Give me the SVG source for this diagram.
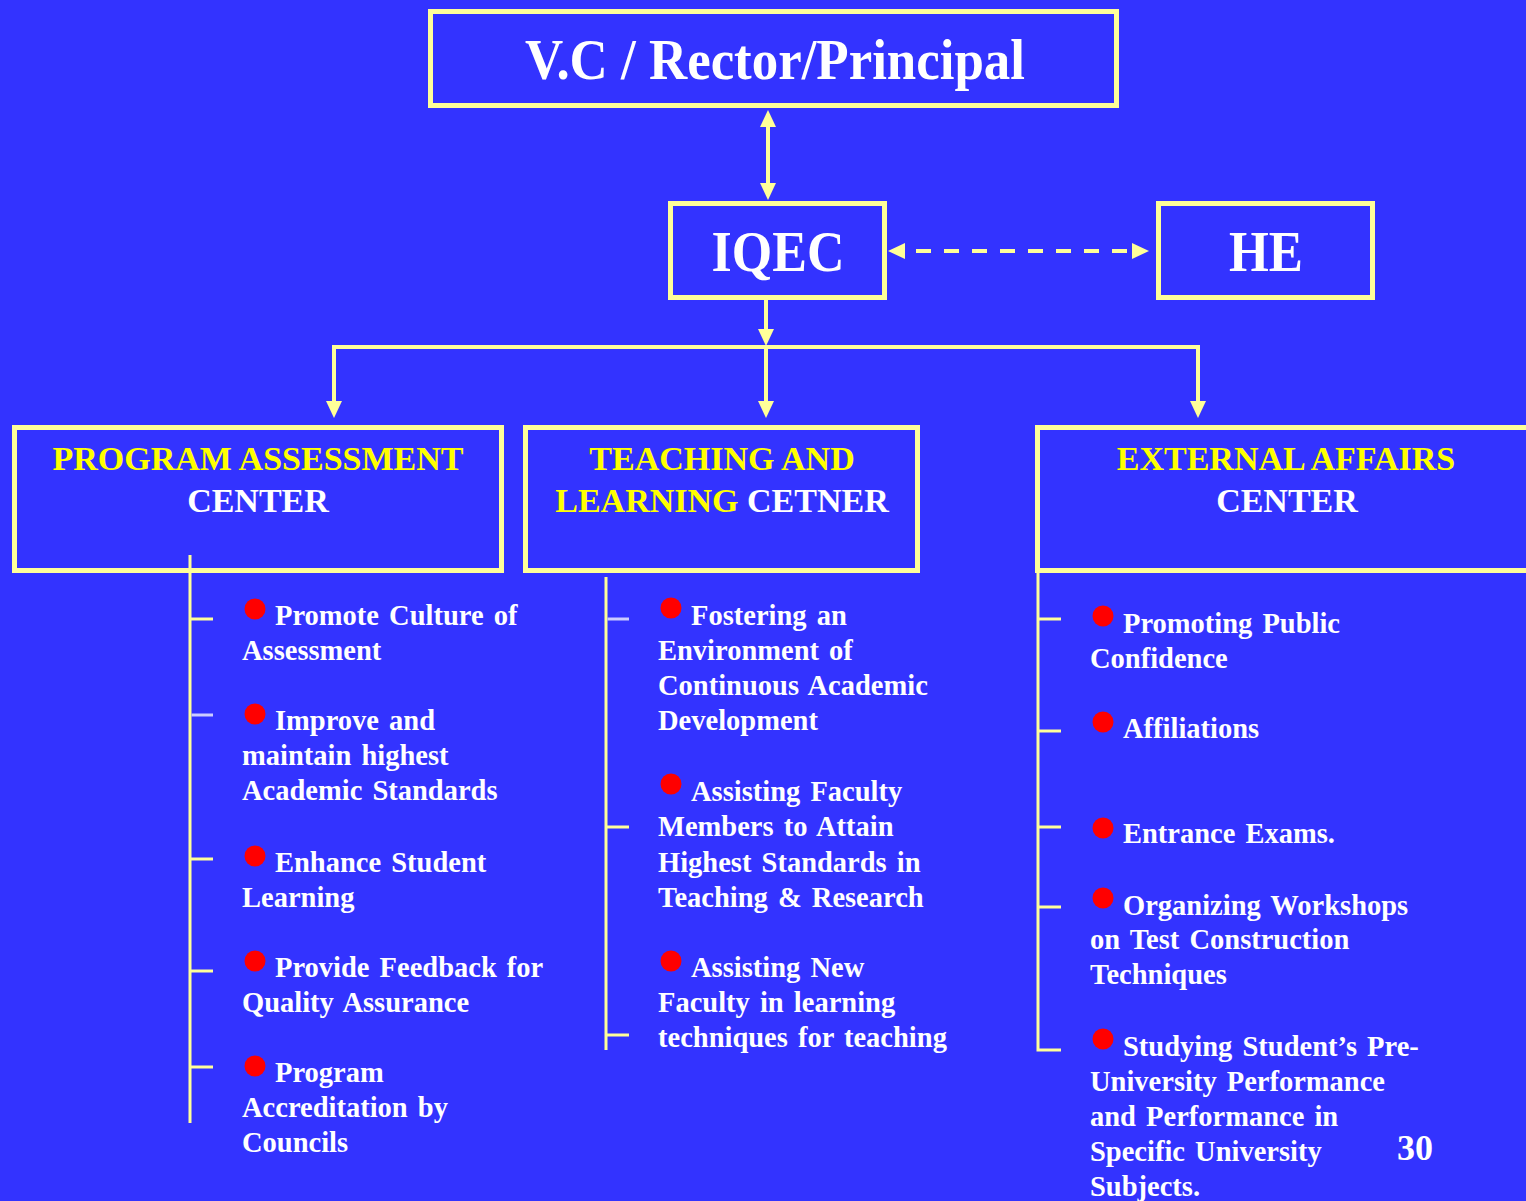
<svg xmlns="http://www.w3.org/2000/svg" width="1526" height="1201" viewBox="0 0 1526 1201">
<style>
text{font-family:"Liberation Serif","Times New Roman",serif;font-weight:bold}
.box{fill:#3333FF;stroke:#FFFF99;stroke-width:5}
.big{font-size:56px;fill:#FFFFFF;text-anchor:middle}
.hdr{font-size:34px;text-anchor:middle}
.y{fill:#FFFF00}
.w{fill:#FFFFFF}
.item{font-size:28.5px;fill:#FFFFFF;word-spacing:3px}
.con{fill:none;stroke:#FFFF99;stroke-width:4}
.dash{stroke-dasharray:15 13;stroke-dashoffset:4}
.br{fill:none;stroke:#FFFF99;stroke-width:3}
.pale{stroke:#CCCCFF}
.dot{fill:#FF0000}
</style>
<defs>
<marker id="ah" markerUnits="userSpaceOnUse" markerWidth="17" markerHeight="16" refX="13" refY="8" orient="auto-start-reverse" viewBox="0 0 17 16">
<path d="M0,0 L17,8 L0,16 z" fill="#FFFF99"/>
</marker>
</defs>
<rect x="0" y="0" width="1526" height="1201" fill="#3333FF"/>

<g id="node-vc">
<rect class="box" x="430.5" y="11.5" width="686" height="94"/>
<text class="big" x="775" y="79" textLength="500" lengthAdjust="spacingAndGlyphs">V.C / Rector/Principal</text>
</g>

<g id="node-iqec">
<rect class="box" x="670.5" y="203.5" width="214" height="94"/>
<text class="big" x="778" y="271" textLength="133" lengthAdjust="spacingAndGlyphs">IQEC</text>
</g>

<g id="node-he">
<rect class="box" x="1158.5" y="203.5" width="214" height="94"/>
<text class="big" x="1266" y="271" textLength="74" lengthAdjust="spacingAndGlyphs">HE</text>
</g>

<g id="node-pac">
<rect class="box" x="14.5" y="427.5" width="487" height="143"/>
<text class="hdr y" x="258" y="470">PROGRAM ASSESSMENT</text>
<text class="hdr w" x="258" y="512">CENTER</text>
</g>

<g id="node-tlc">
<rect class="box" x="525.5" y="427.5" width="392" height="143"/>
<text class="hdr y" x="722" y="470">TEACHING AND</text>
<text class="hdr" x="722" y="512"><tspan class="y">LEARNING</tspan><tspan class="w"> CETNER</tspan></text>
</g>

<g id="node-eac">
<rect class="box" x="1037.5" y="427.5" width="500" height="143"/>
<text class="hdr y" x="1286" y="470">EXTERNAL AFFAIRS</text>
<text class="hdr w" x="1287" y="512">CENTER</text>
</g>

<g id="connectors">
<line class="con" x1="768" y1="114" x2="768" y2="196" marker-start="url(#ah)" marker-end="url(#ah)"/>
<line class="con dash" x1="892" y1="251" x2="1145" y2="251" marker-start="url(#ah)" marker-end="url(#ah)"/>
<line class="con" x1="766" y1="300" x2="766" y2="342" marker-end="url(#ah)"/>
<path class="con" d="M334,414 L334,347 L1198,347 L1198,414" marker-start="url(#ah)" marker-end="url(#ah)"/>
<line class="con" x1="766" y1="347" x2="766" y2="414" marker-end="url(#ah)"/>
<path class="br" d="M190,555 V1123 M190,619 H213 M190,859 H213 M190,971 H213 M190,1067 H213"/>
<path class="br pale" d="M191.5,715 H213"/>
<path class="br" d="M606,577 V1050 M606,827 H629 M606,1035 H629"/>
<path class="br pale" d="M607.5,619 H629"/>
<path class="br" d="M1038,572 V1050 H1061 M1038,619 H1061 M1038,731 H1061 M1038,827 H1061 M1038,907 H1061"/>
</g>

<g id="list-pac">
<circle class="dot" cx="255" cy="609" r="10.5"/>
<circle class="dot" cx="255" cy="714" r="10.5"/>
<circle class="dot" cx="255" cy="856" r="10.5"/>
<circle class="dot" cx="255" cy="961" r="10.5"/>
<circle class="dot" cx="255" cy="1066" r="10.5"/>
<text class="item"><tspan x="275" y="625">Promote Culture of</tspan><tspan x="242" y="660">Assessment</tspan></text>
<text class="item"><tspan x="275" y="730">Improve and</tspan><tspan x="242" y="765">maintain highest</tspan><tspan x="242" y="800">Academic Standards</tspan></text>
<text class="item"><tspan x="275" y="872">Enhance Student</tspan><tspan x="242" y="907">Learning</tspan></text>
<text class="item"><tspan x="275" y="977">Provide Feedback for</tspan><tspan x="242" y="1012">Quality Assurance</tspan></text>
<text class="item"><tspan x="275" y="1082">Program</tspan><tspan x="242" y="1117">Accreditation by</tspan><tspan x="242" y="1152">Councils</tspan></text>
</g>

<g id="list-tlc">
<circle class="dot" cx="671" cy="608" r="10.5"/>
<circle class="dot" cx="671" cy="784" r="10.5"/>
<circle class="dot" cx="671" cy="961" r="10.5"/>
<text class="item"><tspan x="691" y="625">Fostering an</tspan><tspan x="658" y="660">Environment of</tspan><tspan x="658" y="695">Continuous Academic</tspan><tspan x="658" y="730">Development</tspan></text>
<text class="item"><tspan x="691" y="801">Assisting Faculty</tspan><tspan x="658" y="836">Members to Attain</tspan><tspan x="658" y="872">Highest Standards in</tspan><tspan x="658" y="907">Teaching &amp; Research</tspan></text>
<text class="item"><tspan x="691" y="977">Assisting New</tspan><tspan x="658" y="1012">Faculty in learning</tspan><tspan x="658" y="1047">techniques for teaching</tspan></text>
</g>

<g id="list-eac">
<circle class="dot" cx="1103" cy="616" r="10.5"/>
<circle class="dot" cx="1103" cy="722" r="10.5"/>
<circle class="dot" cx="1103" cy="828" r="10.5"/>
<circle class="dot" cx="1103" cy="898" r="10.5"/>
<circle class="dot" cx="1103" cy="1039" r="10.5"/>
<text class="item"><tspan x="1123" y="633">Promoting Public</tspan><tspan x="1090" y="668">Confidence</tspan></text>
<text class="item"><tspan x="1123" y="738">Affiliations</tspan></text>
<text class="item"><tspan x="1123" y="843">Entrance Exams.</tspan></text>
<text class="item"><tspan x="1123" y="915">Organizing Workshops</tspan><tspan x="1090" y="949">on Test Construction</tspan><tspan x="1090" y="984">Techniques</tspan></text>
<text class="item"><tspan x="1123" y="1056">Studying Student’s Pre-</tspan><tspan x="1090" y="1091">University Performance</tspan><tspan x="1090" y="1126">and Performance in</tspan><tspan x="1090" y="1161">Specific University</tspan><tspan x="1090" y="1196">Subjects.</tspan></text>
</g>

<text id="page-number" x="1397" y="1160" font-size="36" fill="#FFFFFF">30</text>
</svg>
